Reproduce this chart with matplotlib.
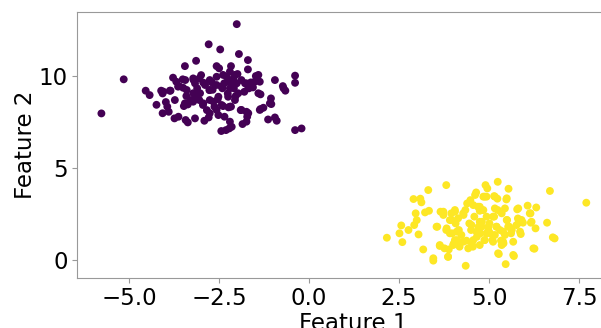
import numpy as np
import matplotlib
matplotlib.use("Agg")
import matplotlib.pyplot as plt

# cluster 0 (purple)
x_c0 = [-5.77, -5.15, -4.54, -4.43, -4.24, -4.11, -4.07, -3.98, -3.94, -3.90,
        -3.85, -3.78, -3.73, -3.74, -3.63, -3.69, -3.61, -3.50, -3.45, -3.44,
        -3.41, -3.43, -3.37, -3.37, -3.29, -3.48, -3.21, -3.14, -3.11, -3.16,
        -3.05, -3.05, -3.00, -2.95, -2.91, -2.89, -2.84, -2.79, -2.77, -2.76,
        -2.79, -2.70, -2.68, -2.63, -2.57, -2.57, -2.54, -2.52, -2.50, -2.47,
        -2.44, -2.41, -2.39, -2.36, -2.35, -2.31, -2.29, -2.26, -2.24, -2.22,
        -2.20, -2.17, -2.17, -2.15, -2.12, -2.10, -2.09, -2.04, -2.01, -1.99,
        -1.95, -1.90, -1.88, -1.85, -1.80, -1.78, -1.74, -1.72, -1.70, -1.70,
        -1.67, -1.62, -1.56, -1.48, -1.44, -1.37, -1.35, -1.35, -1.27, -1.14,
        -1.06, -1.05, -0.95, -0.95, -0.90, -0.73, -0.71, -0.66, -0.39, -0.39,
        -0.39, -0.21,
        -3.51, -3.22, -3.17, -2.94, -2.76, -4.05, -3.87, -3.64, -3.40, -3.22,
        -3.03, -2.76, -2.57, -3.45, -3.22, -2.94, -2.66, -3.17, -2.76, -2.57,
        -4.07,
        -2.39, -2.20, -2.06, -2.25, -2.01, -2.43, -2.20, -1.97, -1.74, -1.69,
        -1.51, -1.41, -1.41, -2.52, -2.25, -2.06, -2.43, -2.20, -1.88, -1.69,
        -1.37, -1.09, -2.20, -1.74]
y_c0 = [7.98, 9.84, 9.22, 8.98, 8.45, 9.22, 9.07, 8.60, 8.35, 8.07,
        9.22, 9.93, 8.71, 7.71, 7.80, 9.71, 9.47, 9.38, 10.56, 9.80,
        8.93, 7.62, 7.49, 8.47, 8.71, 8.38, 9.80, 10.85, 9.35, 8.89,
        9.89, 8.71, 10.07, 8.44, 7.58, 9.53, 8.16, 11.75, 9.25, 8.71,
        7.76, 9.67, 9.27, 8.35, 10.56, 9.98, 8.75, 7.89, 10.44, 11.47,
        7.02, 9.35, 8.38, 9.62, 7.80, 7.07, 9.98, 9.07, 8.31, 7.16,
        9.71, 10.56, 8.35, 7.25, 9.53, 9.89, 9.35, 8.93, 12.85, 10.13,
        11.22, 8.16, 9.80, 7.40, 9.16, 9.62, 8.07, 7.80, 10.89, 10.38,
        9.35, 9.67, 9.40, 10.02, 9.80, 9.71, 9.02, 8.22, 8.29, 7.65,
        8.80, 8.49, 9.80, 7.76, 7.58, 9.47, 9.35, 9.22, 10.04, 9.65,
        7.07, 7.16,
        9.84, 9.89, 9.62, 9.66, 9.80, 9.17, 9.22, 9.44, 9.26, 9.08,
        9.08, 9.26, 9.53, 8.53, 8.62, 8.53, 8.62, 7.71, 7.99, 8.17,
        7.99,
        10.08, 10.26, 10.08, 9.71, 9.62, 9.44, 9.35, 9.08, 9.62, 9.44,
        9.71, 10.08, 9.08, 8.89, 8.89, 8.71, 8.44, 8.35, 8.17, 7.99,
        8.17, 8.53, 7.53, 7.53]

# cluster 1 (yellow)
x_c1 = [2.16, 2.51, 2.56, 2.59, 2.76, 2.90, 2.92, 2.96, 2.99, 3.04,
        3.09, 3.12, 3.17, 3.22, 3.31, 3.33, 3.45, 3.56, 3.63, 3.65,
        3.73, 3.76, 3.81, 3.81, 3.86, 3.88, 3.91, 3.95, 3.97, 4.02,
        4.05, 4.07, 4.11, 4.16, 4.18, 4.23, 4.29, 4.34, 4.35, 4.37,
        4.39, 4.45, 4.48, 4.50, 4.52, 4.55, 4.59, 4.61, 4.64, 4.66,
        4.69, 4.71, 4.74, 4.76, 4.80, 4.84, 4.87, 4.90, 4.93, 4.95,
        4.98, 5.01, 5.03, 5.09, 5.14, 5.14, 5.20, 5.23, 5.24, 5.24,
        5.27, 5.30, 5.33, 5.35, 5.40, 5.44, 5.46, 5.48, 5.50, 5.54,
        5.56, 5.61, 5.69, 5.78, 5.80, 5.83, 5.88, 5.94, 6.07, 6.15,
        6.16, 6.26, 6.29, 6.31, 6.61, 6.69, 6.77, 6.82, 7.70,
        4.84, 4.56, 4.74, 3.73, 4.05, 4.28, 3.96, 4.14, 3.54, 3.82,
        3.91, 4.10, 4.51, 4.74, 4.65, 4.05, 4.28, 4.56, 3.63, 4.00,
        4.42, 4.74, 3.86, 3.45,
        4.88, 5.16, 5.49, 4.79, 5.16, 5.44, 5.81, 6.13, 4.93, 5.11,
        5.49, 5.90, 6.18, 4.79, 4.98, 5.21, 5.53, 5.76, 4.93, 5.16,
        5.39, 5.63, 5.86, 4.88, 5.11, 5.39, 5.67, 5.35, 5.25, 5.67,
        6.23]
y_c1 = [1.20, 1.44, 1.87, 0.96, 1.62, 3.31, 1.89, 2.53, 2.16, 1.38,
        3.33, 3.13, 0.56, 2.58, 3.80, 2.67, -0.05, 1.80, 0.75, 2.62,
        2.44, 0.62, 4.07, 1.62, 0.16, 0.56, 2.16, 2.53, 1.44, 0.89,
        2.62, 1.98, 1.07, 1.62, 0.71, 1.35, 2.44, 2.71, -0.33, 1.04,
        3.07, 1.98, 3.25, 1.62, 0.89, 0.71, 2.35, 3.53, 3.67, 1.25,
        2.89, 1.80, 2.67, 1.44, 2.07, 2.71, 1.07, 4.07, 3.44, 3.89,
        1.62, 1.98, 1.44, 1.07, 3.47, 2.35, 1.80, 3.33, 4.25, 2.71,
        0.31, 1.62, 1.04, 2.53, 0.89, 1.35, -0.24, 3.29, 2.16, 3.87,
        1.80, 1.44, 0.20, 2.75, 2.25, 2.02, 1.40, 2.02, 2.95, 2.53,
        2.02, 0.60, 1.71, 2.85, 2.02, 3.75, 1.22, 1.16, 3.11,
        3.44, 2.98, 2.89, 2.62, 2.71, 2.53, 2.17, 2.26, 1.80, 1.71,
        1.44, 1.53, 1.89, 2.07, 1.53, 1.07, 0.98, 1.07, 0.80, 0.80,
        0.62, 0.80, 0.16, 0.08,
        3.44, 3.44, 3.35, 2.71, 2.80, 2.80, 2.80, 2.53, 2.35, 2.35,
        2.17, 2.17, 2.07, 1.80, 1.80, 1.80, 1.80, 1.89, 1.44, 1.35,
        1.53, 1.62, 1.53, 1.07, 0.98, 0.98, 0.98, 0.80, 0.35, 0.26,
        0.62]

X = np.array(x_c0 + x_c1)
Y = np.array(y_c0 + y_c1)
labels = np.array([0] * len(x_c0) + [1] * len(x_c1))

fig = plt.figure(figsize=(6.01, 3.28), dpi=100)
ax = fig.add_axes([0.1286, 0.1534, 0.92, 0.811])
ax.scatter(X, Y, c=labels, cmap='viridis', s=32, linewidths=0)

ax.set_xlim(-6.44, 8.92)
ax.set_ylim(-0.98, 13.53)
ax.set_xticks([-5.0, -2.5, 0.0, 2.5, 5.0, 7.5])
ax.set_yticks([0, 5, 10])
ax.set_xlabel('Feature 1', fontsize=16.5, labelpad=1)
ax.set_ylabel('Feature 2', fontsize=16.5, labelpad=1)
ax.tick_params(labelsize=16.5, color='#999999', length=3.5)
for sp in ax.spines.values():
    sp.set_color('#999999')

fig.savefig('out.png', dpi=100)
